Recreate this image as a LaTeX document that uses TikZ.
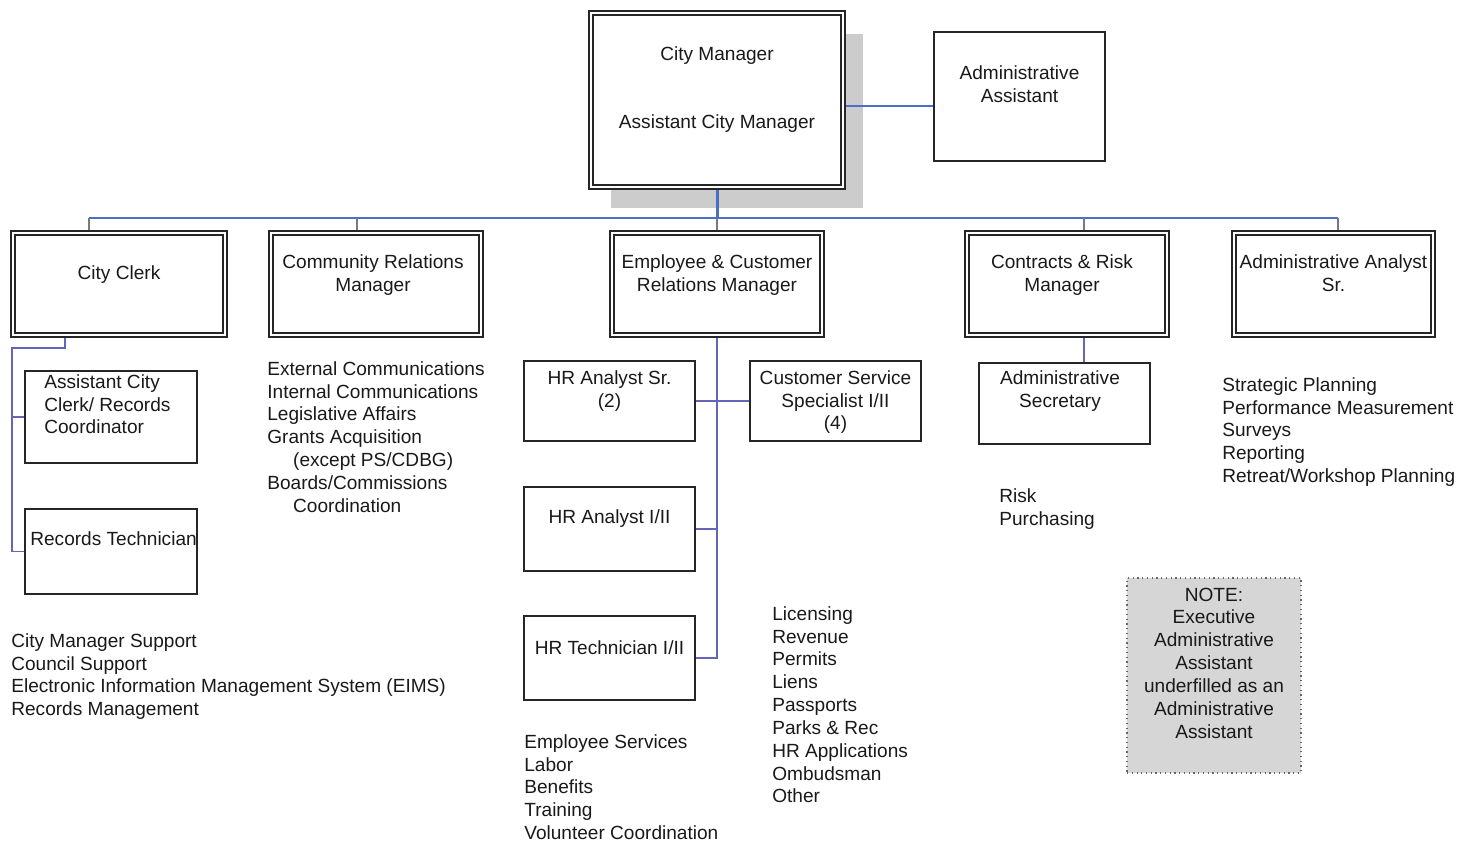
\documentclass[tikz,border=0pt]{standalone}
\usepackage{fontspec}
\setmainfont{Liberation Sans}
\usetikzlibrary{shadows}
\definecolor{busblue}{RGB}{72,112,200}
\definecolor{linkblue}{RGB}{100,100,185}
\definecolor{dropgray}{RGB}{120,120,130}
\definecolor{notegray}{RGB}{214,214,214}
\begin{document}
\begin{tikzpicture}[x=0.2mm, y=-0.2mm,
    every node/.style={font=\fontsize{10.85}{13}\selectfont, text=black!90},
    mgr/.style={draw=black!85, line width=0.38mm, double=white, double distance=0.45mm, outer sep=0.6mm, inner sep=0pt, minimum height=20.4mm},
    post/.style={draw=black!85, line width=0.35mm, inner sep=0pt, minimum width=34.25mm},
    boxtxt/.style={anchor=north, align=center, inner sep=0pt},
    lefttxt/.style={anchor=north west, align=left, inner sep=0pt},
    duties/.style={anchor=north west, align=left, inner sep=0pt},
    bus/.style={busblue, line width=0.4mm},
    link/.style={linkblue, line width=0.25mm},
    drop/.style={dropgray, line width=0.25mm}]
    \useasboundingbox (0,0) rectangle (1471,842);

    % top level
    \node [mgr, fill=white, minimum width=50.4mm, minimum height=34.8mm,
        drop shadow={shadow xshift=4mm, shadow yshift=-4.2mm, fill=black!20, opacity=1},
        label={[boxtxt, yshift=-7.2mm]north:{City Manager\\[26pt]Assistant City Manager}}] (CM) at (717,100) {};
    \node [post, minimum height=25.85mm, label={[boxtxt, yshift=-6.8mm]north:{Administrative\\Assistant}}] (AdminAsst) at (1019.5,96.5) {};

    % department heads
    \node [mgr, minimum width=42.4mm, label={[boxtxt, yshift=-7mm]north:{City Clerk}}] (Clerk) at (119,284) {};
    \node [mgr, minimum width=42mm, label={[boxtxt, xshift=-0.6mm, yshift=-4.8mm]north:{Community Relations\\Manager}}] (CommRel) at (376,284) {};
    \node [mgr, minimum width=42mm, label={[boxtxt, yshift=-4.8mm]north:{Employee \& Customer\\Relations Manager}}] (EmpCust) at (717,284) {};
    \node [mgr, minimum width=40mm, label={[boxtxt, xshift=-1mm, yshift=-4.8mm]north:{Contracts \& Risk\\Manager}}] (Contracts) at (1067,284) {};
    \node [mgr, minimum width=39.8mm, label={[boxtxt, yshift=-4.8mm]north:{Administrative Analyst\\Sr.}}] (AnalystSr) at (1333.5,284) {};

    % staff
    \node [post, minimum width=34.45mm, minimum height=18.45mm, label={[lefttxt, xshift=4mm, yshift=-0.8mm]north west:{Assistant City\\Clerk/ Records\\Coordinator}}] (AsstClerk) at (111,417) {};
    \node [post, minimum width=34.45mm, minimum height=17.05mm, label={[lefttxt, xshift=1.2mm, yshift=-4.6mm]north west:{Records Technician}}] (RecTech) at (111,551.5) {};
    \node [post, minimum height=16.05mm, label={[boxtxt, yshift=-2mm]north:{HR Analyst Sr.\\(2)}}] (HRSr) at (609.5,401) {};
    \node [post, minimum height=16.05mm, label={[boxtxt, yshift=-2mm]north:{Customer Service\\Specialist I/II\\(4)}}] (CSS) at (835.5,401) {};
    \node [post, minimum height=16.85mm, label={[boxtxt, yshift=-4.6mm]north:{HR Analyst I/II}}] (HRAnalyst) at (609.5,529) {};
    \node [post, minimum height=16.85mm, label={[boxtxt, yshift=-5mm]north:{HR Technician I/II}}] (HRTech) at (609.5,658) {};
    \node [post, minimum height=16.25mm, label={[boxtxt, xshift=-0.9mm, yshift=-1.6mm]north:{Administrative\\Secretary}}] (AdminSec) at (1064.5,403.5) {};

    \node [draw=black!60, dotted, line width=0.7pt, fill=notegray, minimum width=34.8mm, minimum height=39mm,
        label={[boxtxt, yshift=-2mm]north:{NOTE:\\Executive\\Administrative\\Assistant\\underfilled as an\\Administrative\\Assistant}}] (Note) at (1214,675.5) {};

    % duties
    \node [duties] (clerkList) at (11,633) {City Manager Support\\Council Support\\Electronic Information Management System (EIMS)\\Records Management};
    \node [duties] (commList) at (267,361) {External Communications\\Internal Communications\\Legislative Affairs\\Grants Acquisition\\\hspace*{14.7pt}(except PS/CDBG)\\Boards/Commissions\\\hspace*{14.7pt}Coordination};
    \node [duties] (hrList) at (524,734) {Employee Services\\Labor\\Benefits\\Training\\Volunteer Coordination};
    \node [duties] (csList) at (772,606) {Licensing\\Revenue\\Permits\\Liens\\Passports\\Parks \& Rec\\HR Applications\\Ombudsman\\Other};
    \node [duties] (riskList) at (999,488) {Risk\\Purchasing};
    \node [duties] (analystList) at (1222,377) {Strategic Planning\\Performance Measurement\\Surveys\\Reporting\\Retreat/Workshop Planning};

    % connectors
    \coordinate (bus) at (717,218);
    \coordinate (clerkTop) at ([xshift=-6mm]Clerk.north);
    \coordinate (commTop) at ([xshift=-3.8mm]CommRel.north);
    \coordinate (contrTop) at ([xshift=3.4mm]Contracts.north);
    \coordinate (analTop) at ([xshift=0.9mm]AnalystSr.north);
    \draw [bus, line width=0.3mm] (CM.east |- 0,106) -- (AdminAsst.west |- 0,106);
    \draw [bus] (clerkTop |- bus) -- (analTop |- bus);
    \foreach \t in {clerkTop, commTop, EmpCust.north, contrTop, analTop}
        \draw [drop] (\t) -- (\t |- bus);
    \draw [busblue, line width=0.6mm] (CM.south) -- (bus);

    \coordinate (clerkOut) at ([xshift=-10.8mm]Clerk.south);
    \draw [link] (clerkOut) -- ++(0,10) -| ([xshift=-2.4mm]RecTech.west) -- (RecTech.west);
    \draw [link] (AsstClerk.west) -- ++(-2.4mm,0);

    \draw [link] (EmpCust.south) |- (HRTech.east);
    \draw [link] (HRSr.east) -- (CSS.west);
    \draw [link] (HRAnalyst.east) -- (HRAnalyst.east -| EmpCust.south);

    \coordinate (contrOut) at ([xshift=3.4mm]Contracts.south);
    \draw [link] (contrOut) -- (contrOut |- AdminSec.north);
\end{tikzpicture}
\end{document}
